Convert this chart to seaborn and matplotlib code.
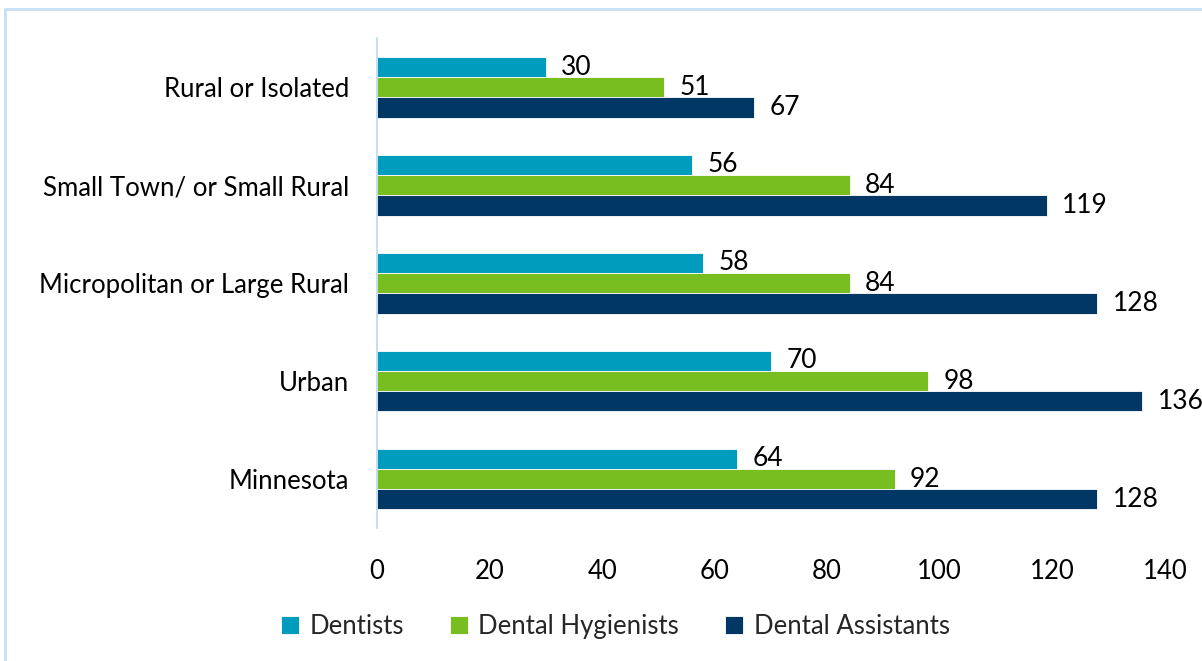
import matplotlib.pyplot as plt
from matplotlib.patches import Rectangle
import seaborn as sns
import pandas as pd

# Datos
categories = ["Rural or Isolated", "Small Town/ or Small Rural",
              "Micropolitan or Large Rural", "Urban", "Minnesota"]
series = ["Dentists", "Dental Hygienists", "Dental Assistants"]
dentists = [30, 56, 58, 70, 64]
hygienists = [51, 84, 84, 98, 92]
assistants = [67, 119, 128, 136, 128]
x_ticks = [0, 20, 40, 60, 80, 100, 120, 140]

colors = ["#009CBD", "#78BE21", "#003764"]


def main():
    sns.set_style("white")
    plt.rcParams["font.family"] = ["Lato", "DejaVu Sans"]

    df = pd.DataFrame({
        "category": categories * 3,
        "series": [series[0]] * 5 + [series[1]] * 5 + [series[2]] * 5,
        "value": dentists + hygienists + assistants,
    })

    fig = plt.figure(figsize=(12.02, 6.61), dpi=100)
    ax = fig.add_axes([0.3137, 0.2012, 0.969 - 0.3137, 0.942 - 0.2012])

    sns.barplot(data=df, y="category", x="value", hue="series", order=categories,
                hue_order=series, palette=colors, orient="h", width=0.62,
                saturation=1, edgecolor="white", linewidth=0.6, ax=ax)

    for cont in ax.containers:
        ax.bar_label(cont, fmt="%d", padding=11, fontsize=19, color="black")

    ax.set_xlim(0, 140)
    ax.set_xticks(x_ticks)
    ax.set_ylim(4.5, -0.5)
    ax.set_xlabel("")
    ax.set_ylabel("")
    ax.tick_params(axis="both", length=0, labelsize=18.5, colors="black")
    ax.tick_params(axis="x", pad=22)
    ax.tick_params(axis="y", pad=20)

    for side in ["top", "right", "bottom"]:
        ax.spines[side].set_visible(False)
    ax.spines["left"].set_color("#BDD7EE")
    ax.spines["left"].set_linewidth(1.2)

    handles, labels = ax.get_legend_handles_labels()
    ax.get_legend().remove()
    fig.legend(handles, labels, loc="center", bbox_to_anchor=(0.512, 0.052), ncol=3,
               frameon=False, fontsize=18.5, handlelength=0.7, handleheight=0.7,
               handletextpad=0.4, columnspacing=1.8)

    # borde del area del grafico
    fig.patches.append(Rectangle((0.0045, -0.02), 1.1, 0.9865 + 0.02,
                                 transform=fig.transFigure, fill=False,
                                 edgecolor="#C6E0F6", linewidth=2))

    fig.savefig("out.png", dpi=100)


if __name__ == "__main__":
    main()
